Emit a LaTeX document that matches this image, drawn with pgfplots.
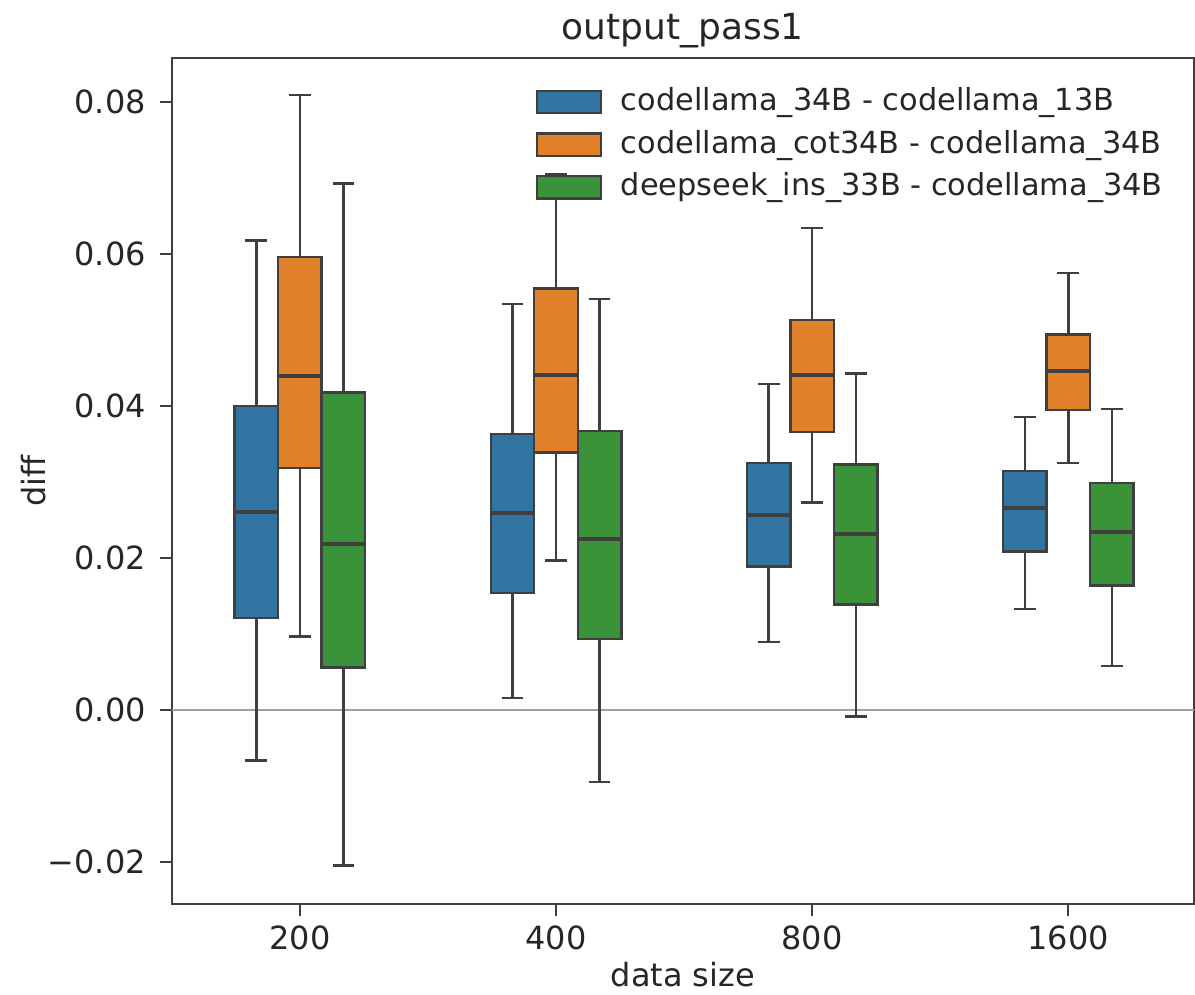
\documentclass[border=0pt]{standalone}
\usepackage{fontspec}
\setmainfont{DejaVu Sans}
\usepackage{pgfplots}
\pgfplotsset{compat=1.18}
\usepgfplotslibrary{statistics}
\usetikzlibrary{calc}

\definecolor{cblue}{RGB}{50,116,161}
\definecolor{corange}{RGB}{225,129,44}
\definecolor{cgreen}{RGB}{58,146,58}
\definecolor{edge}{RGB}{63,63,63}
\definecolor{txt}{RGB}{38,38,38}

\pgfplotsset{
  sbox/.style={
    solid, fill=#1, draw=edge, line width=0.6pt,
    boxplot/draw direction=y,
    boxplot/box extend=0.17,
    boxplot/whisker extend=0.085,
    boxplot/every median/.style={draw=edge, line width=1pt},
    legend image code/.code={\path[draw=none,fill=none] (0pt,0pt) -- (19pt,0pt);\draw[fill=#1,draw=edge,line width=0.6pt] (0pt,-2.8pt) rectangle (16pt,2.8pt);},
  },
}

\begin{document}
\begin{tikzpicture}
\begin{axis}[
    scale only axis,
    width=255.75pt,
    height=211.75pt,
    xmin=-0.5, xmax=3.49,
    ymin=-0.0255, ymax=0.0858,
    scaled y ticks=false,
    xtick={0,1,2,3},
    xticklabels={200,400,800,1600},
    ytick={-0.02,0,0.02,0.04,0.06,0.08},
    yticklabels={−0.02,0.00,0.02,0.04,0.06,0.08},
    tick pos=left,
    tick align=outside,
    major tick length=3pt,
    every tick/.style={edge, line width=0.5pt},
    axis line style={edge, line width=0.6pt},
    ticklabel style={font=\fontsize{8}{9}\selectfont, text=txt},
    xticklabel style={yshift=1pt},
    xlabel={data size},
    ylabel={diff},
    label style={font=\fontsize{8}{9}\selectfont, text=txt},
    xlabel style={yshift=4pt},
    ylabel style={yshift=-6.5pt},
    title={output\_pass1},
    title style={font=\fontsize{9}{10}\selectfont, text=txt, yshift=-7pt},
    legend style={draw=none, fill=none, at={(0.99,0.985)}, anchor=north east,
      font=\fontsize{7.6}{9}\selectfont, text=txt, row sep=-0.6pt,
      legend cell align=left},
]
\addplot[gray!75, line width=0.5pt, forget plot] coordinates {(-0.5,0) (3.5,0)};

% 200
\addplot[sbox=cblue, boxplot prepared={draw position=-0.17,
  lower whisker=-0.0066, lower quartile=0.0121, median=0.0261, upper quartile=0.0400, upper whisker=0.0618}] coordinates {};
\addlegendentry{codellama\_34B - codellama\_13B}
\addplot[sbox=corange, boxplot prepared={draw position=0,
  lower whisker=0.0097, lower quartile=0.0319, median=0.0440, upper quartile=0.0596, upper whisker=0.0809}] coordinates {};
\addlegendentry{codellama\_cot34B - codellama\_34B}
\addplot[sbox=cgreen, boxplot prepared={draw position=0.17,
  lower whisker=-0.0204, lower quartile=0.0056, median=0.0219, upper quartile=0.0418, upper whisker=0.0693}] coordinates {};
\addlegendentry{deepseek\_ins\_33B - codellama\_34B}

% 400
\addplot[sbox=cblue, forget plot, boxplot prepared={draw position=0.83,
  lower whisker=0.0016, lower quartile=0.0154, median=0.0259, upper quartile=0.0363, upper whisker=0.0534}] coordinates {};
\addplot[sbox=corange, forget plot, boxplot prepared={draw position=1,
  lower whisker=0.0197, lower quartile=0.0339, median=0.0441, upper quartile=0.0555, upper whisker=0.0705}] coordinates {};
\addplot[sbox=cgreen, forget plot, boxplot prepared={draw position=1.17,
  lower whisker=-0.0094, lower quartile=0.0094, median=0.0225, upper quartile=0.0367, upper whisker=0.0541}] coordinates {};

% 800
\addplot[sbox=cblue, forget plot, boxplot prepared={draw position=1.83,
  lower whisker=0.0090, lower quartile=0.0189, median=0.0257, upper quartile=0.0325, upper whisker=0.0429}] coordinates {};
\addplot[sbox=corange, forget plot, boxplot prepared={draw position=2,
  lower whisker=0.0273, lower quartile=0.0366, median=0.0441, upper quartile=0.0513, upper whisker=0.0634}] coordinates {};
\addplot[sbox=cgreen, forget plot, boxplot prepared={draw position=2.17,
  lower whisker=-0.0008, lower quartile=0.0139, median=0.0232, upper quartile=0.0323, upper whisker=0.0443}] coordinates {};

% 1600
\addplot[sbox=cblue, forget plot, boxplot prepared={draw position=2.83,
  lower whisker=0.0133, lower quartile=0.0209, median=0.0266, upper quartile=0.0315, upper whisker=0.0386}] coordinates {};
\addplot[sbox=corange, forget plot, boxplot prepared={draw position=3,
  lower whisker=0.0325, lower quartile=0.0395, median=0.0446, upper quartile=0.0494, upper whisker=0.0575}] coordinates {};
\addplot[sbox=cgreen, forget plot, boxplot prepared={draw position=3.17,
  lower whisker=0.0058, lower quartile=0.0164, median=0.0235, upper quartile=0.0299, upper whisker=0.0396}] coordinates {};
\end{axis}
\pgfresetboundingbox
\path[use as bounding box] ($(current axis.south west)+(-43pt,-22.5pt)$) rectangle ($(current axis.north east)+(0.3pt,14.5pt)$);
\end{tikzpicture}
\end{document}
